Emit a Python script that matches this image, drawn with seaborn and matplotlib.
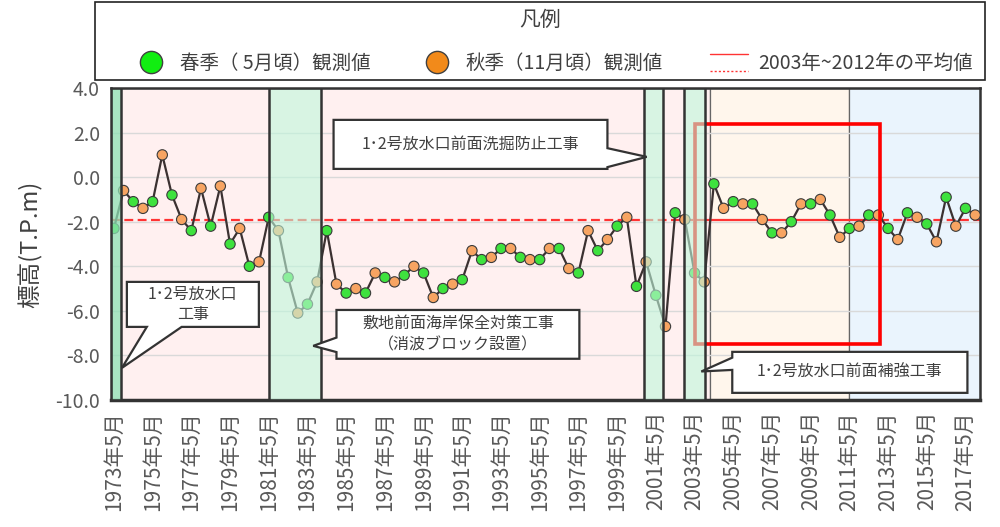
import numpy as np
import pandas as pd
import matplotlib
matplotlib.use("Agg")
import matplotlib.pyplot as plt
import seaborn as sns
from matplotlib.patches import Polygon, Rectangle
from matplotlib.lines import Line2D
from matplotlib.legend_handler import HandlerBase

sns.set_style("white")
plt.rcParams['font.family'] = ['Noto Sans CJK JP', 'DejaVu Sans']
plt.rcParams['axes.unicode_minus'] = False

# 観測値 (標高 T.P.m) 1973年〜2017年
spring_values = [-2.3, -1.1, -1.1, -0.8, -2.4, -2.2, -3.0, -4.0, -1.8, -4.5,
                 -5.7, -2.4, -5.2, -5.2, -4.5, -4.4, -4.3, -5.0, -4.6, -3.7,
                 -3.2, -3.6, -3.7, -3.2, -4.3, -3.3, -2.2, -4.9, -5.3, -1.6,
                 -4.3, -0.3, -1.1, -1.2, -2.5, -2.0, -1.2, -1.7, -2.3, -1.7,
                 -2.3, -1.6, -2.1, -0.9, -1.4]
autumn_values = [-0.6, -1.4, 1.0, -1.9, -0.5, -0.4, -2.3, -3.8, -2.4, -6.1,
                 -4.7, -4.8, -5.0, -4.3, -4.7, -4.0, -5.4, -4.8, -3.3, -3.6,
                 -3.2, -3.7, -3.2, -4.1, -2.4, -2.8, -1.8, -3.8, -6.7, -1.9,
                 -4.7, -1.4, -1.2, -1.9, -2.5, -1.2, -1.0, -2.7, -2.2, -1.7,
                 -2.8, -1.8, -2.9, -2.2, -1.7]
first_year = 1973
years = list(range(first_year, first_year + len(spring_values)))
tick_labels = [f"{y}年5月" for y in years[::2]]

season_names = ["春季（ 5月頃）観測値", "秋季（11月頃）観測値"]
mean_label = "2003年~2012年の平均値"
mean_years = (2003, 2012)

rows = []
for i, y in enumerate(years):
    rows.append({"pos": 2 * i, "year": y, "value": spring_values[i], "season": season_names[0]})
    rows.append({"pos": 2 * i + 1, "year": y, "value": autumn_values[i], "season": season_names[1]})
df = pd.DataFrame(rows)

p0 = 2 * (mean_years[0] - first_year)
p1 = 2 * (mean_years[1] - first_year) + 1
mean_val = df[(df.pos >= p0) & (df.pos <= p1)]["value"].mean()

# 工事期間 (位置)
works = [(-0.3, 0.7), (16.0, 21.4), (54.75, 56.7), (58.9, 61.05)]
# 背景区分
periods = [(-0.3, 61.6, "#fff0f0"), (61.6, 76.0, "#fff6ec"), (76.0, 89.5, "#eaf4fd")]

fig = plt.figure(figsize=(10, 5.27), dpi=100)
ax = fig.add_axes([0.111, 0.241, 0.869, 0.592])

for a, b, c in periods:
    ax.axvspan(a, b, facecolor=c, edgecolor="#666666", lw=0.9, zorder=0)

x_left, x_right = -0.3, 89.5
ax.hlines(mean_val, x_left, p0, colors="#ff3333", lw=1.6, linestyles=(0, (4, 2)), zorder=1)
ax.hlines(mean_val, p1 + 0.2, x_right, colors="#ff3333", lw=1.6, linestyles=(0, (4, 2)), zorder=1)
ax.hlines(mean_val, p0, p1 + 0.2, colors="#ff3333", lw=1.6, zorder=1)

sns.lineplot(data=df, x="pos", y="value", color="#3b3131", lw=1.6, ax=ax, zorder=2)
sns.scatterplot(data=df, x="pos", y="value", hue="season",
                palette={season_names[0]: "#3ee23e", season_names[1]: "#f7a462"},
                s=55, edgecolor="#3a3a3a", linewidth=0.8, ax=ax, zorder=3, legend=False)

ax.add_patch(Rectangle((p0, -7.5), p1 + 0.2 - p0, 9.9, facecolor="none",
                       edgecolor="#ff0000", lw=2.6, zorder=3.5, joinstyle="miter"))

for k, (a, b) in enumerate(works):
    fc = (0.55, 0.88, 0.70, 0.75) if k == 0 else (0.75, 0.97, 0.86, 0.6)
    ax.axvspan(a, b, facecolor=fc, edgecolor="#333333", lw=1.8, zorder=4)


def callout(x0, x1, yb, yt, side, base, tip, text):
    b0, b1 = sorted(base)
    pts = [(x0, yt), (x1, yt)]
    if side == "right":
        pts += [(x1, b1), tip, (x1, b0)]
    pts.append((x1, yb))
    if side == "bottom":
        pts += [(b1, yb), tip, (b0, yb)]
    pts.append((x0, yb))
    if side == "left":
        pts += [(x0, b0), tip, (x0, b1)]
    ax.add_patch(Polygon(pts, closed=True, facecolor="white", edgecolor="#333333",
                         lw=1.6, zorder=6, joinstyle="miter"))
    ax.text((x0 + x1) / 2, (yb + yt) / 2, text, ha="center", va="center",
            fontsize=11.5, color="#404040", linespacing=1.3, zorder=7)


callout(1.34, 14.98, -6.72, -4.70, "bottom", (3.4, 7.0), (0.83, -8.56), "1･2号放水口\n工事")
callout(23.0, 48.1, -8.15, -5.96, "left", (-7.2, -7.85), (20.6, -7.57),
        "敷地前面海岸保全対策工事\n（消波ブロック設置）")
callout(22.7, 51.0, 0.37, 2.57, "right", (1.3, 0.45), (55.06, 0.91), "1･2号放水口前面洗掘防止工事")
callout(63.9, 88.2, -9.68, -7.84, "left", (-8.1, -8.65), (60.7, -8.72), "1･2号放水口前面補強工事")

ax.set_xlim(x_left, x_right)
ax.set_ylim(-10, 4)
ax.set_yticks(np.arange(-10, 4.1, 2))
ax.set_yticklabels([f"{v:.1f}" for v in np.arange(-10, 4.1, 2)])
ax.set_xticks(range(0, len(df), 4))
ax.set_xticklabels(tick_labels, rotation=90)
ax.tick_params(axis="both", length=0, colors="#595959")
ax.tick_params(axis="y", labelsize=14, pad=8)
ax.tick_params(axis="x", labelsize=15, pad=8)
ax.set_xlabel("")
ax.set_ylabel("標高(T.P.m)", fontsize=17, color="#404040", labelpad=9)
ax.yaxis.grid(True, color="#d9d9d9", lw=1)
ax.set_axisbelow(True)
for s in ax.spines.values():
    s.set_color("#333333")
    s.set_linewidth(1.8)
ax.spines["bottom"].set_linewidth(2.5)


# 凡例
class HandlerMean(HandlerBase):
    def create_artists(self, legend, orig_handle, xdescent, ydescent, width, height, fontsize, trans):
        top = Line2D([-xdescent, width - xdescent], [height * 1.05 - ydescent] * 2, color="#ff3333", lw=1.0)
        bot = Line2D([-xdescent, width - xdescent], [-height * 0.15 - ydescent] * 2, color="#ff3333",
                     lw=1.0, ls=(0, (1.5, 1.5)))
        top.set_transform(trans)
        bot.set_transform(trans)
        return [top, bot]


fig.patches.append(Rectangle((0.095, 0.848), 0.89, 0.148, transform=fig.transFigure,
                             facecolor="white", edgecolor="#222222", lw=1.2))
fig.text(0.54, 0.963, "凡例", ha="center", va="center", fontsize=15, color="#404040")
handles = [Line2D([], [], ls="none", marker="o", markersize=16, mfc="#11ee11", mec="#404040", mew=1.0),
           Line2D([], [], ls="none", marker="o", markersize=16, mfc="#f28a1a", mec="#404040", mew=1.0),
           Line2D([], [], color="#ff3333")]
leg = fig.legend(handles, season_names + [mean_label], ncol=3, loc="center",
                 bbox_to_anchor=(0.552, 0.88), frameon=False, fontsize=14,
                 handlelength=2.0, handletextpad=0.5, columnspacing=2.4,
                 handler_map={handles[2]: HandlerMean()})
for t in leg.get_texts():
    t.set_color("#404040")

fig.savefig("out.png", dpi=100)
